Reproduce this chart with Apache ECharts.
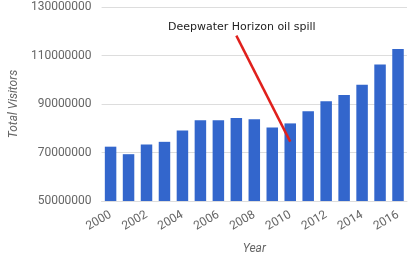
<!DOCTYPE html>
<html>
<head>
<meta charset="utf-8">
<script src="https://cdn.jsdelivr.net/npm/echarts@6/dist/echarts.min.js"></script>
<style>
  html, body { margin: 0; padding: 0; background: #fff; }
  #chart { width: 410px; height: 260px; }
</style>
</head>
<body>
<div id="chart"></div>
<script>
// years on the x axis
const years = ['2000', '2001', '2002', '2003', '2004', '2005', '2006', '2007', '2008',
  '2009', '2010', '2011', '2012', '2013', '2014', '2015', '2016']
// total visitors per year
const visitors = [72400000, 69300000, 73300000, 74400000, 79100000, 83300000, 83300000,
  84200000, 83700000, 80300000, 82000000, 87000000, 91100000, 93700000, 97900000,
  106300000, 112700000]
// annotation arrow, in data space: [category index, value]
const arrowStart = [7.45, 118200000]
const arrowEnd = [10.0, 74500000]
const annotation = 'Deepwater Horizon oil spill'

const chart = echarts.init(document.getElementById('chart'))

chart.setOption({
  animation: false,
  backgroundColor: '#ffffff',
  title: {
    text: annotation,
    left: 163,
    top: 17,
    textStyle: {
      fontFamily: 'DejaVu Sans',
      fontWeight: 'normal',
      fontSize: 11,
      color: '#222'
    }
  },
  grid: {
    left: 92,
    right: 3,
    top: 7,
    bottom: 57
  },
  xAxis: {
    type: 'category',
    data: years,
    name: 'Year',
    nameLocation: 'middle',
    nameGap: 42,
    nameTextStyle: {
      fontStyle: 'italic',
      fontFamily: 'Roboto',
      fontSize: 12,
      color: '#666'
    },
    axisLine: { lineStyle: { color: '#ddd' } },
    axisTick: { show: false },
    axisLabel: {
      interval: 1,
      rotate: 30,
      margin: 13,
      fontFamily: 'Roboto',
      fontSize: 12,
      color: '#666'
    }
  },
  yAxis: {
    type: 'value',
    min: 50000000,
    max: 130000000,
    interval: 20000000,
    name: 'Total Visitors',
    nameLocation: 'middle',
    nameGap: 79,
    nameTextStyle: {
      fontStyle: 'italic',
      fontFamily: 'Roboto',
      fontSize: 12,
      color: '#666'
    },
    axisLine: { show: false },
    axisTick: { show: false },
    axisLabel: {
      margin: 10,
      fontFamily: 'Roboto',
      fontSize: 12,
      color: '#666',
      formatter: function (v) {
        return String(v)
      }
    },
    splitLine: { lineStyle: { color: '#ddd' } }
  },
  series: [{
    type: 'bar',
    data: visitors,
    barWidth: '64%',
    itemStyle: { color: '#3366cc' },
    markLine: {
      silent: true,
      symbol: 'none',
      label: { show: false },
      lineStyle: { color: '#e0201c', width: 2.5, type: 'solid' },
      data: [[
        { coord: arrowStart },
        { coord: arrowEnd }
      ]]
    }
  }]
})
</script>
</body>
</html>
